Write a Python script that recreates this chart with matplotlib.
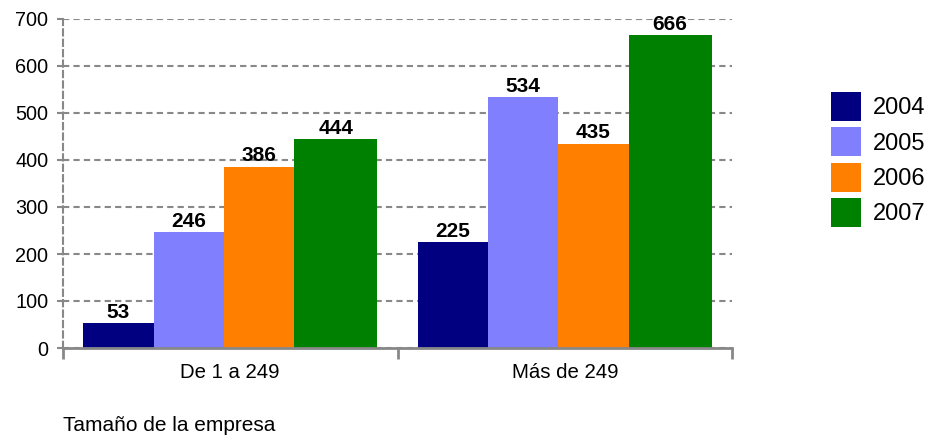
import numpy as np
import matplotlib.pyplot as plt
from matplotlib.patches import Patch

plt.rcParams['font.family'] = ['Liberation Sans', 'DejaVu Sans']

categories = ['De 1 a 249', 'Más de 249']
years = ['2004', '2005', '2006', '2007']
values = {
    '2004': [53, 225],
    '2005': [246, 534],
    '2006': [386, 435],
    '2007': [444, 666],
}
colors = ['#000080', '#8080ff', '#ff8000', '#008000']
widths = [0.21, 0.21, 0.21, 0.248]
grid_gray = '#888888'

fig = plt.figure(figsize=(9.29, 4.38), dpi=100)
ax = fig.add_axes([63 / 929, 1 - 348 / 438, (732 - 63) / 929, (348 - 19) / 438])

x = np.arange(len(categories))
start = -sum(widths) / 2
for yr, c, w in zip(years, colors, widths):
    bars = ax.bar(x + start, values[yr], width=w, align='edge', color=c, zorder=3)
    for b, v in zip(bars, values[yr]):
        ax.annotate(str(v), (b.get_x() + b.get_width() / 2, v), xytext=(0, 1),
                    textcoords='offset points', ha='center', va='bottom',
                    fontsize=15, fontweight='bold', zorder=4)
    start += w

ax.set_xlim(-0.5, len(categories) - 0.5)
ax.set_ylim(0, 700)
ax.set_yticks(np.arange(0, 701, 100))
ax.yaxis.grid(True, color=grid_gray, linestyle=(0, (3, 2)), linewidth=1.5, zorder=0)

ax.set_xticks(x)
ax.set_xticklabels(categories, fontsize=14.7)
ax.set_xticks(np.arange(-0.5, len(categories), 1), minor=True)
ax.tick_params(axis='x', which='major', length=0, pad=11)
ax.tick_params(axis='x', which='minor', length=8, width=2, color=grid_gray)
ax.tick_params(axis='y', length=4.5, width=1.5, color=grid_gray, pad=6, labelsize=14.3)

for s in ['top', 'right']:
    ax.spines[s].set_visible(False)
ax.spines['bottom'].set_color(grid_gray)
ax.spines['bottom'].set_linewidth(2)
ax.spines['bottom'].set_zorder(5)
ax.spines['left'].set_color(grid_gray)
ax.spines['left'].set_linewidth(1.5)
ax.spines['left'].set_linestyle((0, (3, 2)))

handles = [Patch(facecolor=c, edgecolor='none', label=yr) for yr, c in zip(years, colors)]
fig.legend(handles=handles, loc='upper left', bbox_to_anchor=(831 / 929, 1 - 92 / 438),
           frameon=False, fontsize=17, handlelength=1.27, handleheight=1.5,
           handletextpad=0.5, labelspacing=0.28, borderpad=0, borderaxespad=0)

fig.text(63 / 929, 1 - 431 / 438, 'Tamaño de la empresa', fontsize=15, va='baseline', ha='left')

fig.savefig('out.png', dpi=100)
